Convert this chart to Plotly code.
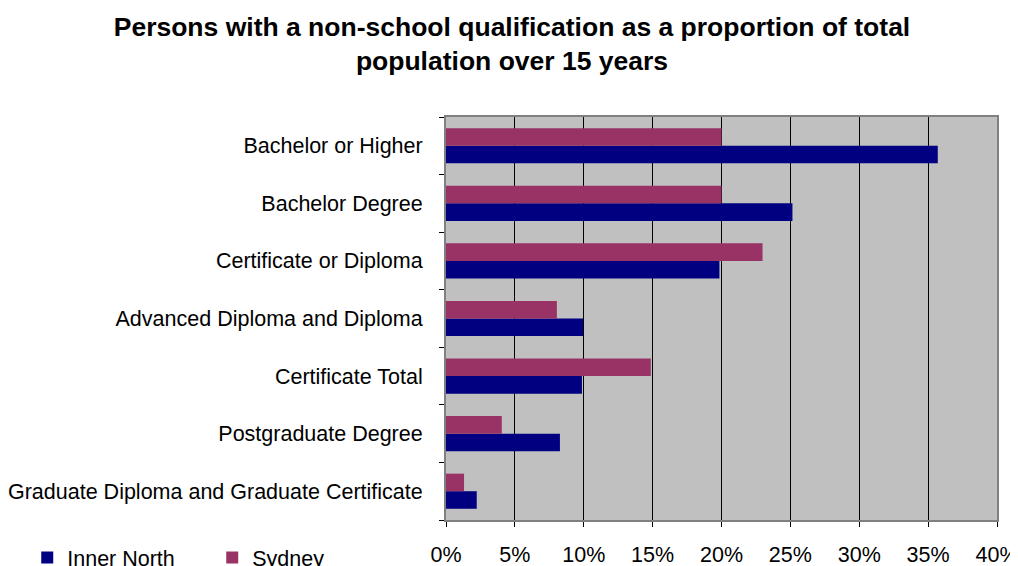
import plotly.graph_objects as go

categories = ["Bachelor or Higher", "Bachelor Degree", "Certificate or Diploma",
              "Advanced Diploma and Diploma", "Certificate Total",
              "Postgraduate Degree", "Graduate Diploma and Graduate Certificate"]
inner_north = [35.7, 25.15, 19.85, 9.95, 9.87, 8.27, 2.23]
sydney = [20.0, 20.0, 22.98, 8.05, 14.87, 4.05, 1.31]
tick_vals = [0, 5, 10, 15, 20, 25, 30, 35, 40]
tick_text = [f"{v}%" for v in tick_vals]

font = "Liberation Sans, Arial, sans-serif"

fig = go.Figure()
fig.add_trace(go.Bar(y=categories, x=inner_north, name="Inner North", orientation="h",
                     marker=dict(color="#000080", line=dict(width=0))))
fig.add_trace(go.Bar(y=categories, x=sydney, name="Sydney", orientation="h",
                     marker=dict(color="#993366", line=dict(width=0))))

# page body has a default 8px margin, so the figure is sized to fit the window
fig.update_layout(
    width=1010, height=558,
    margin=dict(l=438, r=21, t=109, b=46, autoexpand=False),
    paper_bgcolor="white", plot_bgcolor="#C0C0C0",
    barmode="group", bargap=0.39, bargroupgap=0,
    font=dict(family=font, size=21.5, color="black"),
    title=dict(text="Persons with a non-school qualification as a proportion of total<br>population over 15 years",
               x=0.499, xanchor="center", y=0.95, yanchor="top",
               font=dict(family=font, size=26.5, color="black", weight="bold")),
    legend=dict(orientation="h", x=-0.76, xanchor="left", y=-0.042, yanchor="top",
                font=dict(size=21.5), entrywidth=140, entrywidthmode="pixels",
                traceorder="normal", bgcolor="rgba(0,0,0,0)"),
    showlegend=True,
)
fig.update_xaxes(range=[0, 40], tickvals=tick_vals, ticktext=tick_text,
                 showgrid=True, gridcolor="black", gridwidth=1,
                 showline=True, linecolor="#808080", linewidth=2, mirror=True,
                 ticks="outside", ticklen=5, tickcolor="black",
                 ticklabelstandoff=9, ticklabeloverflow="allow",
                 zeroline=False, fixedrange=True, automargin=False)
fig.update_yaxes(categoryorder="array", categoryarray=categories[::-1],
                 showline=True, linecolor="#808080", linewidth=2, mirror=True,
                 ticks="outside", ticklen=5, tickcolor="black", tickson="boundaries",
                 showgrid=False, ticklabelstandoff=17, ticklabeloverflow="allow",
                 fixedrange=True, automargin=False)

fig.write_html("out.html")
